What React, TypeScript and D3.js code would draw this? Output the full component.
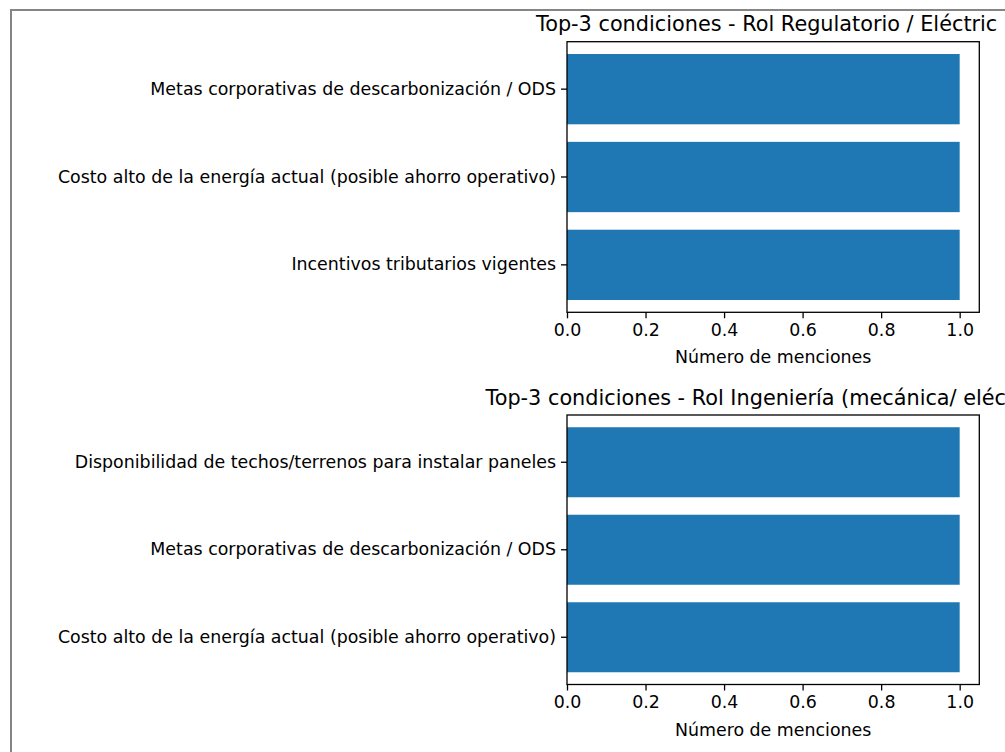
import * as d3 from "d3"
import { useRef, useEffect } from "react"

const categoriesTop = [
  "Metas corporativas de descarbonización / ODS",
  "Costo alto de la energía actual (posible ahorro operativo)",
  "Incentivos tributarios vigentes",
]
const valuesTop = [1, 1, 1]
// the reference shows this title clipped after "Eléctric"
const titleTop = "Top-3 condiciones - Rol Regulatorio / Eléctric"

const categoriesBottom = [
  "Disponibilidad de techos/terrenos para instalar paneles",
  "Metas corporativas de descarbonización / ODS",
  "Costo alto de la energía actual (posible ahorro operativo)",
]
const valuesBottom = [1, 1, 1]
const titleBottom = "Top-3 condiciones - Rol Ingeniería (mecánica/ eléctrica)"

const xTicks = [0, 0.2, 0.4, 0.6, 0.8, 1.0]
const xLabel = "Número de menciones"

const W = 1005
const H = 752
const FONT = "DejaVu Sans, sans-serif"
const TICK_FS = 17.4
const TITLE_FS = 20.8

export default function App() {
  const svgRef = useRef<SVGSVGElement>(null)

  useEffect(() => {
    if (!svgRef.current) return
    const svg = d3.select(svgRef.current)
    svg.selectAll("*").remove()

    // outer frame of the picture
    svg
      .append("rect")
      .attr("x", 11)
      .attr("y", 10)
      .attr("width", 1100)
      .attr("height", 900)
      .attr("fill", "none")
      .attr("stroke", "#858585")
      .attr("stroke-width", 2)

    const left = 567
    const right = 979.3

    const panels = [
      { cats: categoriesTop, vals: valuesTop, title: titleTop, top: 41.7, bottom: 312.3, anchor: "start", tx: left - 31 },
      { cats: categoriesBottom, vals: valuesBottom, title: titleBottom, top: 415, bottom: 684.5, anchor: "middle", tx: (left + right) / 2 },
    ]

    panels.forEach((p) => {
      const x = d3.scaleLinear().domain([0, 1.05]).range([left, right])
      const y = d3
        .scaleBand()
        .domain(p.cats)
        .range([p.top, p.bottom])
        .paddingInner(0.2)
        .paddingOuter(0.14)

      const g = svg.append("g")

      g.selectAll("rect.bar")
        .data(p.cats.map((c, i) => ({ c, v: p.vals[i] })))
        .join("rect")
        .attr("class", "bar")
        .attr("x", x(0))
        .attr("y", (d) => y(d.c)!)
        .attr("width", (d) => x(d.v) - x(0))
        .attr("height", y.bandwidth())
        .attr("fill", "#1f77b4")

      // spines
      g.append("rect")
        .attr("x", left)
        .attr("y", p.top)
        .attr("width", right - left)
        .attr("height", p.bottom - p.top)
        .attr("fill", "none")
        .attr("stroke", "#000")
        .attr("stroke-width", 1.3)

      // x axis
      g.append("g")
        .attr("transform", `translate(0,${p.bottom})`)
        .call(
          d3
            .axisBottom(x)
            .tickValues(xTicks)
            .tickFormat(d3.format(".1f"))
            .tickSize(6)
            .tickPadding(5)
        )
        .call((a) => a.select(".domain").remove())
        .call((a) =>
          a
            .selectAll("text")
            .attr("font-size", TICK_FS)
            .attr("font-family", FONT)
            .attr("fill", "#000")
        )
        .call((a) => a.selectAll("line").attr("stroke-width", 1.3))

      // y axis
      g.append("g")
        .attr("transform", `translate(${left},0)`)
        .call(d3.axisLeft(y).tickSize(6).tickPadding(5))
        .call((a) => a.select(".domain").remove())
        .call((a) =>
          a
            .selectAll("text")
            .attr("font-size", TICK_FS)
            .attr("font-family", FONT)
            .attr("fill", "#000")
        )
        .call((a) => a.selectAll("line").attr("stroke-width", 1.3))

      g.append("text")
        .attr("x", (left + right) / 2)
        .attr("y", p.bottom + 51)
        .attr("text-anchor", "middle")
        .attr("font-size", TICK_FS)
        .attr("font-family", FONT)
        .text(xLabel)

      g.append("text")
        .attr("x", p.tx)
        .attr("y", p.top - 10.4)
        .attr("text-anchor", p.anchor)
        .attr("font-size", TITLE_FS)
        .attr("font-family", FONT)
        .text(p.title)
    })
  }, [])

  return (
    <svg
      ref={svgRef}
      width={W}
      height={H}
      style={{ position: "absolute", left: 0, top: 0, background: "#fff" }}
    ></svg>
  )
}
